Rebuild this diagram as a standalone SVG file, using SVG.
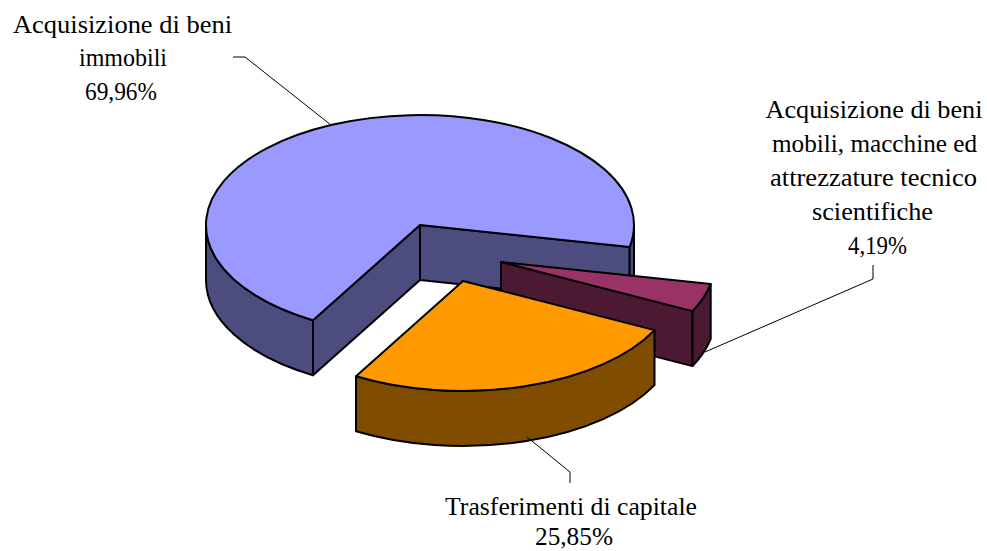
<svg xmlns="http://www.w3.org/2000/svg" width="987" height="551" viewBox="0 0 987 551">
<style>
  .edge{stroke:#000;stroke-width:2;stroke-linejoin:round}
  .blueTop{fill:#9999FF}
  .blueSide{fill:#4C4C7F}
  .orTop{fill:#FF9900}
  .orSide{fill:#7F4C00}
  .puTop{fill:#993366}
  .puSide{fill:#4C1933}
  .lbl{font-family:"Liberation Serif","Times New Roman",serif;font-size:26px;fill:#000;text-anchor:middle}
  .lead{stroke:#000;stroke-width:1;fill:none}
</style>
<rect width="987" height="551" fill="#fff"/>
<g id="slice-immobili">
  <path class="blueSide edge" d="M420,225 L313,320.3 L313,375.3 L420,280 Z"/>
  <path class="blueSide edge" d="M420,225 L629.7,246.9 L629.7,301.9 L420,280 Z"/>
  <path class="blueSide edge" d="M313,320.3 A214,110 0 0 1 206,225 L206,280 A214,110 0 0 0 313,375.3 Z"/>
  <path class="blueSide edge" d="M634,225 A214,110 0 0 1 629.7,246.9 L629.7,301.9 A214,110 0 0 0 634,280 Z"/>
  <path class="blueTop edge" d="M420,225 L629.7,246.9 A214,110 0 1 0 313,320.3 Z"/>
  <g class="lbl">
    <text x="122.5" y="33" textLength="219" lengthAdjust="spacingAndGlyphs">Acquisizione di beni</text>
    <text x="123" y="66" textLength="88" lengthAdjust="spacingAndGlyphs">immobili</text>
    <text x="121" y="100" textLength="72" lengthAdjust="spacingAndGlyphs">69,96%</text>
  </g>
</g>
<g id="slice-mobili">
  <path class="puSide edge" d="M501,262 L692.5,311.1 L692.5,366.1 L501,317 Z"/>
  <path class="puSide edge" d="M710.7,283.9 A214,110 0 0 1 692.5,311.1 L692.5,366.1 A214,110 0 0 0 710.7,338.9 Z"/>
  <path class="puTop edge" d="M501,262 L710.7,283.9 A214,110 0 0 1 692.5,311.1 Z"/>
  <g class="lbl">
    <text x="874" y="118" textLength="217" lengthAdjust="spacingAndGlyphs">Acquisizione di beni</text>
    <text x="874.5" y="152" textLength="205" lengthAdjust="spacingAndGlyphs">mobili, macchine ed</text>
    <text x="873.5" y="186" textLength="207" lengthAdjust="spacingAndGlyphs">attrezzature tecnico</text>
    <text x="872.5" y="220" textLength="121" lengthAdjust="spacingAndGlyphs">scientifiche</text>
    <text x="877.5" y="254" textLength="59" lengthAdjust="spacingAndGlyphs">4,19%</text>
  </g>
</g>
<g id="slice-trasferimenti">
  <path class="orSide edge" d="M654.5,330.1 A214,110 0 0 1 356,376.3 L356,431.3 A214,110 0 0 0 654.5,385.1 Z"/>
  <path class="orTop edge" d="M463,281 L654.5,330.1 A214,110 0 0 1 356,376.3 Z"/>
  <g class="lbl">
    <text x="571" y="515" textLength="252" lengthAdjust="spacingAndGlyphs">Trasferimenti di capitale</text>
    <text x="574" y="545" textLength="78" lengthAdjust="spacingAndGlyphs">25,85%</text>
  </g>
</g>
<g id="connectors">
  <polyline class="lead" points="233,57 245,57 331,125"/>
  <polyline class="lead" points="873,265 873,279 705,352"/>
  <polyline class="lead" points="527,437 570,472 570,483"/>
</g>
</svg>
